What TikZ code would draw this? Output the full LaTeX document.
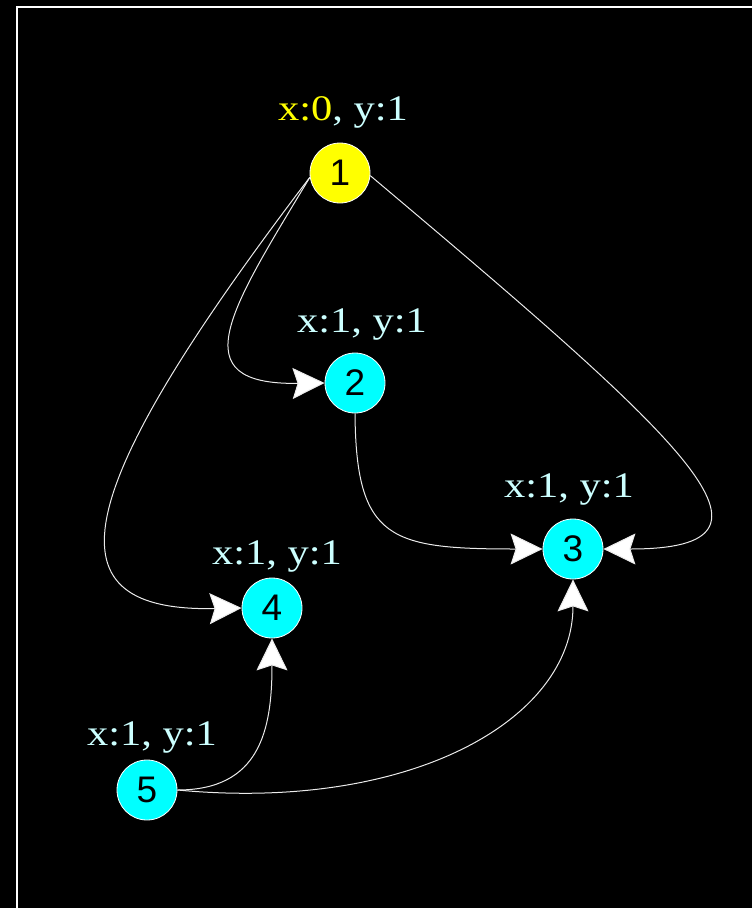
\documentclass[tikz,border=0pt]{standalone}
\usepackage{fontspec}
\usepackage{graphicx}
\setmainfont{Liberation Serif}
\newfontfamily\arialf{Liberation Sans}
\usetikzlibrary{arrows.meta}
\definecolor{lblcyan}{RGB}{204,255,255}
\definecolor{nodecyan}{RGB}{0,255,255}
\definecolor{nodeyellow}{RGB}{255,255,0}
\begin{document}
\begin{tikzpicture}[x=1pt,y=-1pt,
  vert/.style={circle, minimum size=60pt, inner sep=0pt, draw=white, line width=0.8pt,
    font=\arialf\fontsize{37}{37}\selectfont, text=black},
  lbl/.style={font=\fontsize{36}{36}\selectfont, text=lblcyan, inner sep=0pt, anchor=base},
  edge/.style={draw=white!92!black, line width=1pt,
    -{Stealth[length=32pt,width=31pt,inset=5pt,fill=white]}}]
\useasboundingbox (0,0) rectangle (752,908);
\fill[black] (0,0) rectangle (752,908);
\draw[white, line width=2pt] (17,908) -- (17,7) -- (752,7);

\node[vert, fill=nodeyellow] (n1) at (340,173) {1};
\node[vert, fill=nodecyan] (n2) at (355,383) {2};
\node[vert, fill=nodecyan] (n3) at (573,549) {3};
\node[vert, fill=nodecyan] (n4) at (272,608) {4};
\node[vert, fill=nodecyan] (n5) at (147,790) {5};

\node[lbl] (l1) at (343,120) {\scalebox{1.18}[1]{\textcolor{nodeyellow}{x:0}, y:1}};
\node[lbl] (l2) at (362,332) {\scalebox{1.18}[1]{x:1, y:1}};
\node[lbl] (l3) at (569,497) {\scalebox{1.18}[1]{x:1, y:1}};
\node[lbl] (l4) at (277,564) {\scalebox{1.18}[1]{x:1, y:1}};
\node[lbl] (l5) at (152,745) {\scalebox{1.18}[1]{x:1, y:1}};

\draw[edge] (n1.188) .. controls (230,310) and (180,385) .. (n2.west);
\draw[edge] (n1.188) .. controls (60,505) and (50,612) .. (n4.west);
\draw[edge] (n1.355) .. controls (690,445) and (805,549) .. (n3.east);
\draw[edge] (n2.south) .. controls (356,540) and (390,549) .. (n3.west);
\draw[edge] (n5.east) .. controls (260,790) and (272,730) .. (n4.south);
\draw[edge] (n5.east) .. controls (410,812) and (573,720) .. (n3.south);
\end{tikzpicture}
\end{document}
